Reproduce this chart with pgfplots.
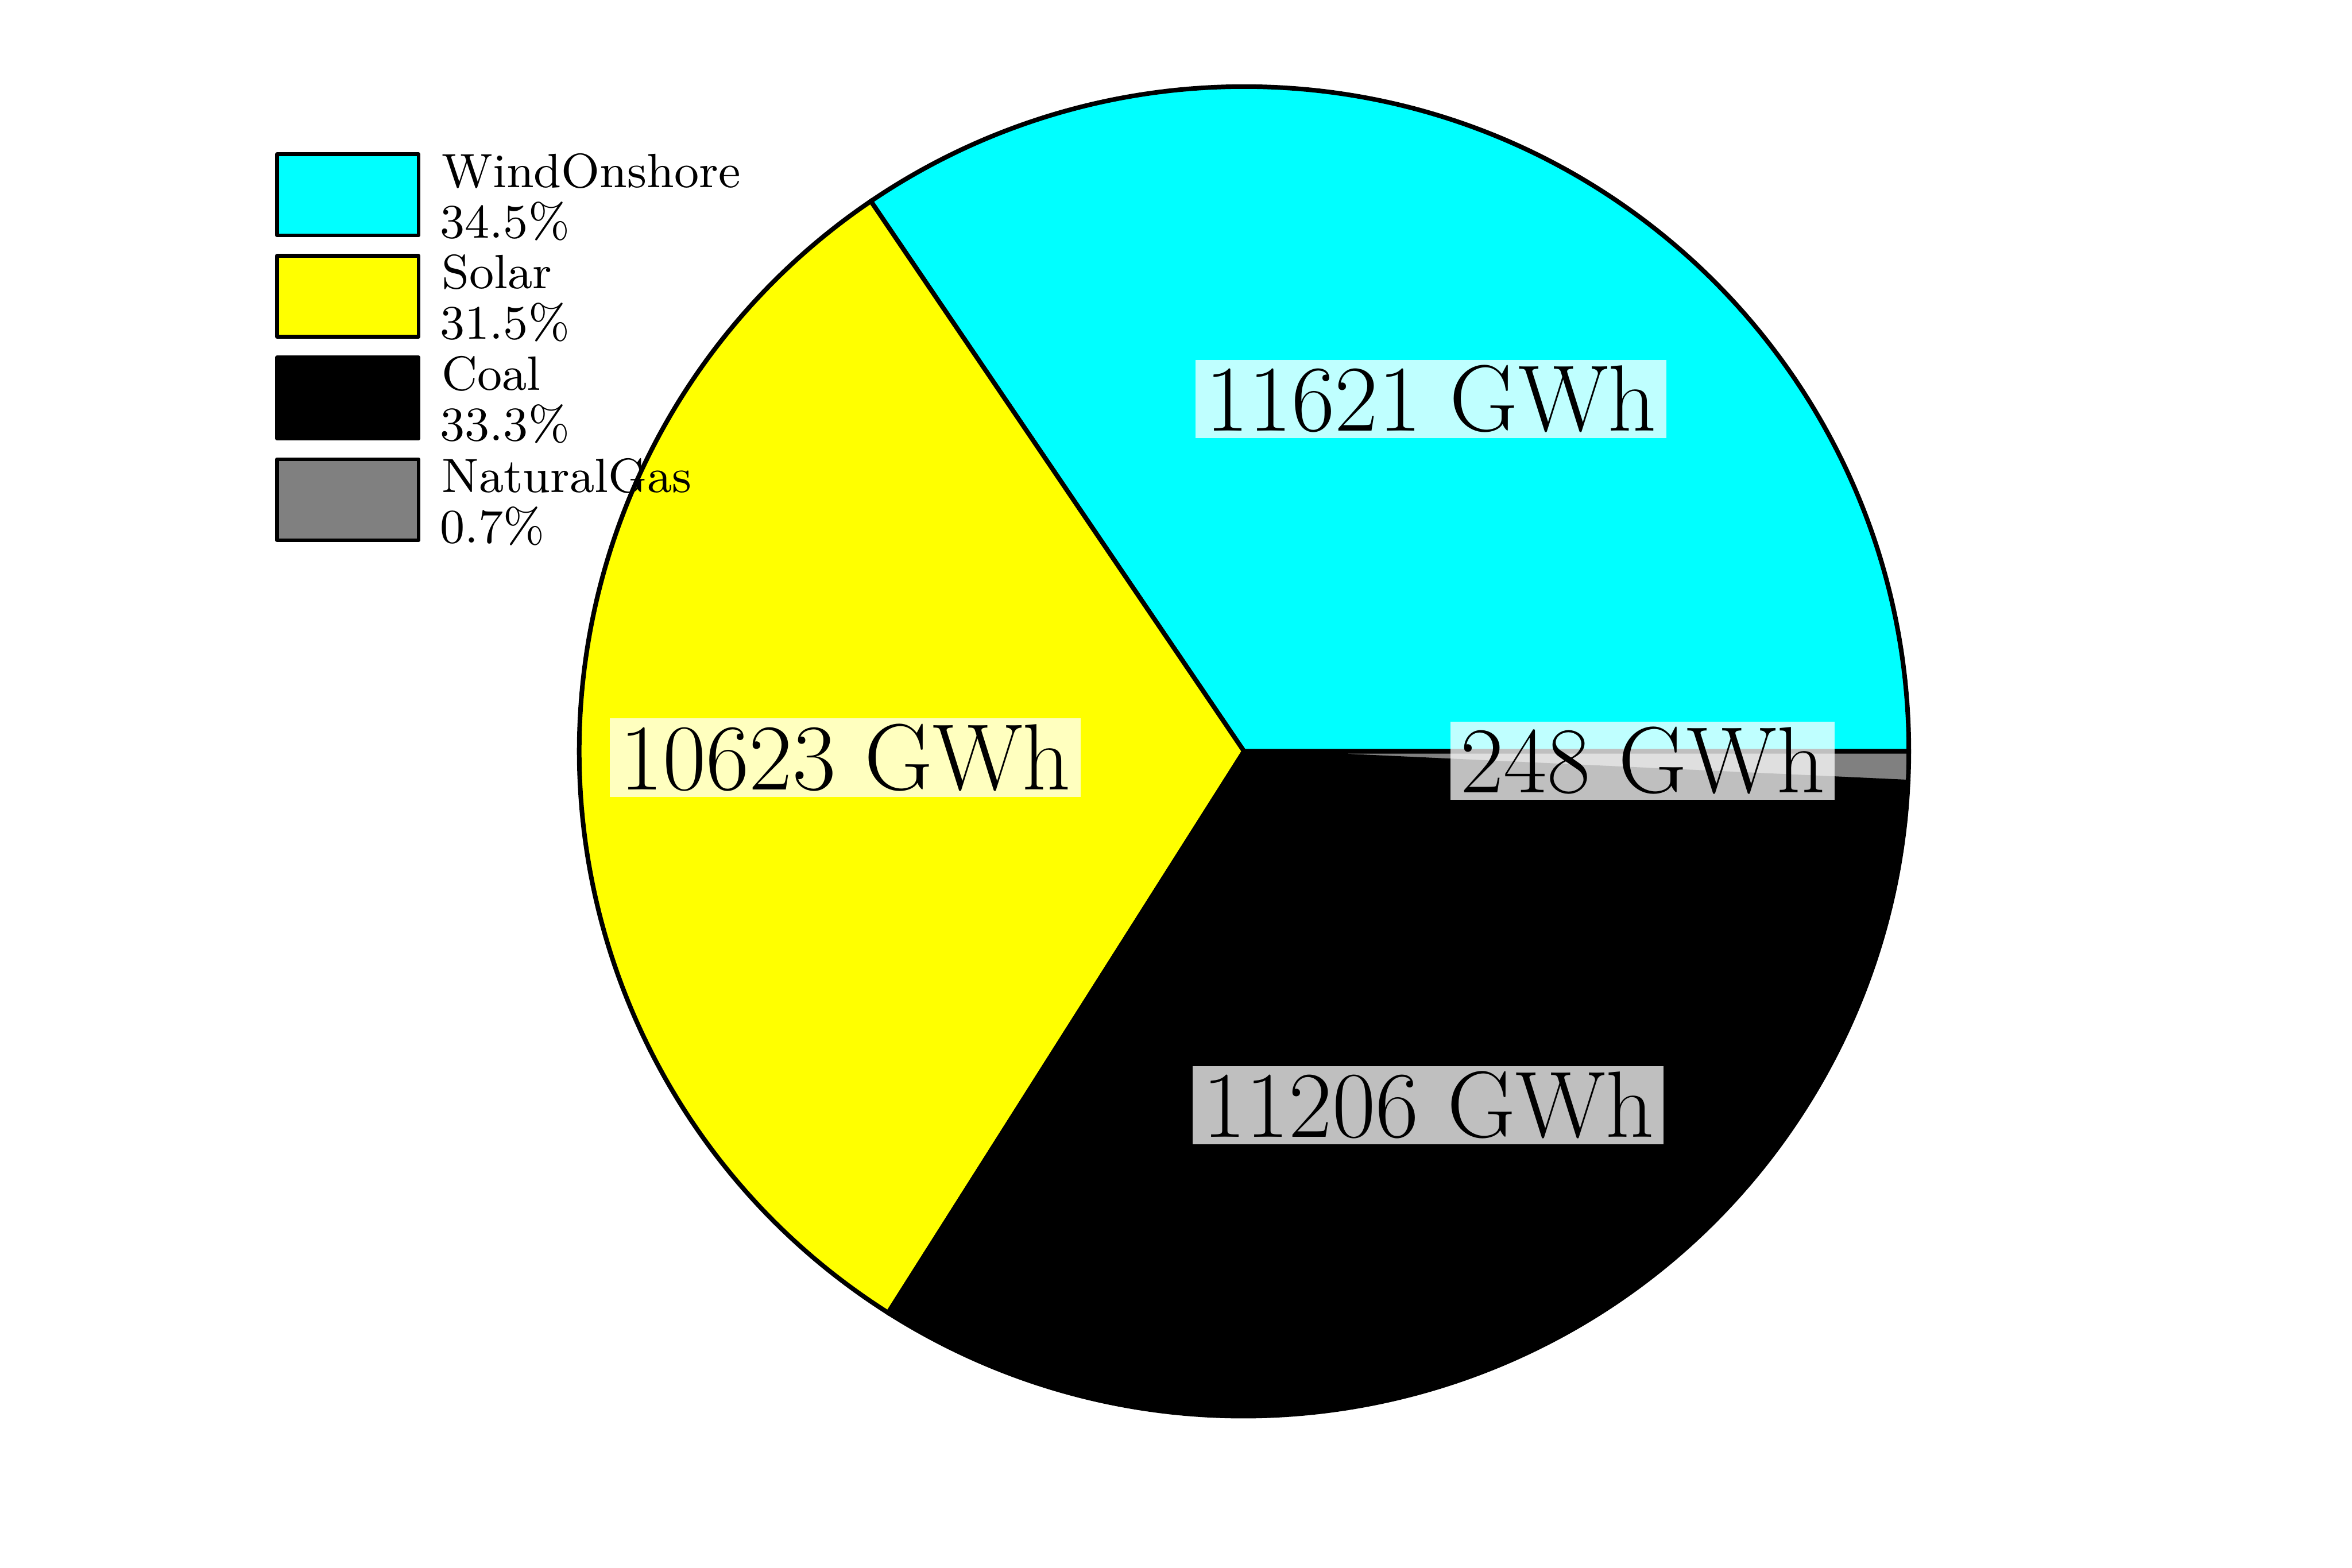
\documentclass[border=0pt]{standalone}
\usepackage{pgfplots}
\usepackage{pgfplotstable}
\pgfplotsset{compat=1.18}
\definecolor{pcyan}{RGB}{0,255,255}
\definecolor{pyellow}{RGB}{255,255,0}
\definecolor{pgray}{RGB}{128,128,128}
\definecolor{pblack}{RGB}{0,0,0}

\pgfplotstableread{
name value
WindOnshore 11621
Solar 10623
Coal 11206
NaturalGas 248
}\piedata

\begin{document}%
\begin{tikzpicture}
\pgfplotstablegetelem{0}{value}\of\piedata \let\vA\pgfplotsretval
\pgfplotstablegetelem{1}{value}\of\piedata \let\vB\pgfplotsretval
\pgfplotstablegetelem{2}{value}\of\piedata \let\vC\pgfplotsretval
\pgfplotstablegetelem{3}{value}\of\piedata \let\vD\pgfplotsretval
\pgfmathsetmacro\tot{\vA/1000+\vB/1000+\vC/1000+\vD/1000}
\pgfmathsetmacro\angA{360*(\vA/1000)/\tot}
\pgfmathsetmacro\angB{\angA+360*(\vB/1000)/\tot}
\pgfmathsetmacro\angC{\angB+360*(\vC/1000)/\tot}
\pgfmathsetmacro\midA{\angA/2}
\pgfmathsetmacro\midB{(\angA+\angB)/2}
\pgfmathsetmacro\midC{(\angB+\angC)/2}
\pgfmathsetmacro\midD{(\angC+360)/2}
\def\R{122.11pt}
\begin{axis}[
  scale only axis,
  width=432pt, height=288pt,
  xmin=-1.8712, xmax=1.6666,
  ymin=-1.2282, ymax=1.1303,
  axis lines=none,
  clip=false,
]
\path[fill=white] (rel axis cs:0,0) rectangle (rel axis cs:1,1);
\tikzset{wedge/.style={draw=black, line width=0.84pt, line join=miter}}
\filldraw[wedge, fill=pcyan] (axis cs:0,0) -- (axis cs:1,0) arc[start angle=0, end angle=\angA, radius=\R] -- cycle;
\filldraw[wedge, fill=pyellow] (axis cs:0,0) -- (axis cs:{cos(\angA)},{sin(\angA)}) arc[start angle=\angA, end angle=\angB, radius=\R] -- cycle;
\filldraw[wedge, fill=pblack] (axis cs:0,0) -- (axis cs:{cos(\angB)},{sin(\angB)}) arc[start angle=\angB, end angle=\angC, radius=\R] -- cycle;
\filldraw[wedge, fill=pgray] (axis cs:0,0) -- (axis cs:{cos(\angC)},{sin(\angC)}) arc[start angle=\angC, end angle=360, radius=\R] -- cycle;
\tikzset{plab/.style={fill=white, fill opacity=0.75, text opacity=1, inner xsep=1.8pt, inner ysep=1.0pt, font=\fontsize{17.3}{20}\selectfont}}
\node[plab] at (axis cs:{0.6*cos(\midA)},{0.6*sin(\midA)}) {\vA{} GWh};
\node[plab] at (axis cs:{0.6*cos(\midB)},{0.6*sin(\midB)}) {\vB{} GWh};
\node[plab] at (axis cs:{0.6*cos(\midC)},{0.6*sin(\midC)}) {\vC{} GWh};
\node[plab] at (axis cs:{0.6*cos(\midD)},{0.6*sin(\midD)}) {\vD{} GWh};
\end{axis}
\begin{scope}[shift={(current axis.north west)}, x=0.072pt, y=-0.072pt,
  lbox/.style={draw=black, line width=0.67pt, line join=round},
  ltxt/.style={anchor=base west, inner sep=0pt, outer sep=0pt, font=\fontsize{8.85}{9.3}\selectfont}]
\filldraw[lbox, fill=pcyan]   (706.6,393.6)  rectangle (1067.4,600.4);
\filldraw[lbox, fill=pyellow] (706.6,652.6)  rectangle (1067.4,859.4);
\filldraw[lbox, fill=pblack]  (706.6,912.0)  rectangle (1067.4,1118.8);
\filldraw[lbox, fill=pgray]   (706.6,1171.6) rectangle (1067.4,1378.4);
\node[ltxt] at (1127,477.7)  {WindOnshore};
\node[ltxt] at (1123,606.7)  {34.5\%};
\node[ltxt] at (1127,736.7)  {Solar};
\node[ltxt] at (1123,865.7)  {31.5\%};
\node[ltxt] at (1127,996.0)  {Coal};
\node[ltxt] at (1123,1125.0) {33.3\%};
\node[ltxt] at (1127,1255.6) {NaturalGas};
\node[ltxt] at (1123,1384.6) {0.7\%};
\end{scope}
\end{tikzpicture}%
\end{document}
